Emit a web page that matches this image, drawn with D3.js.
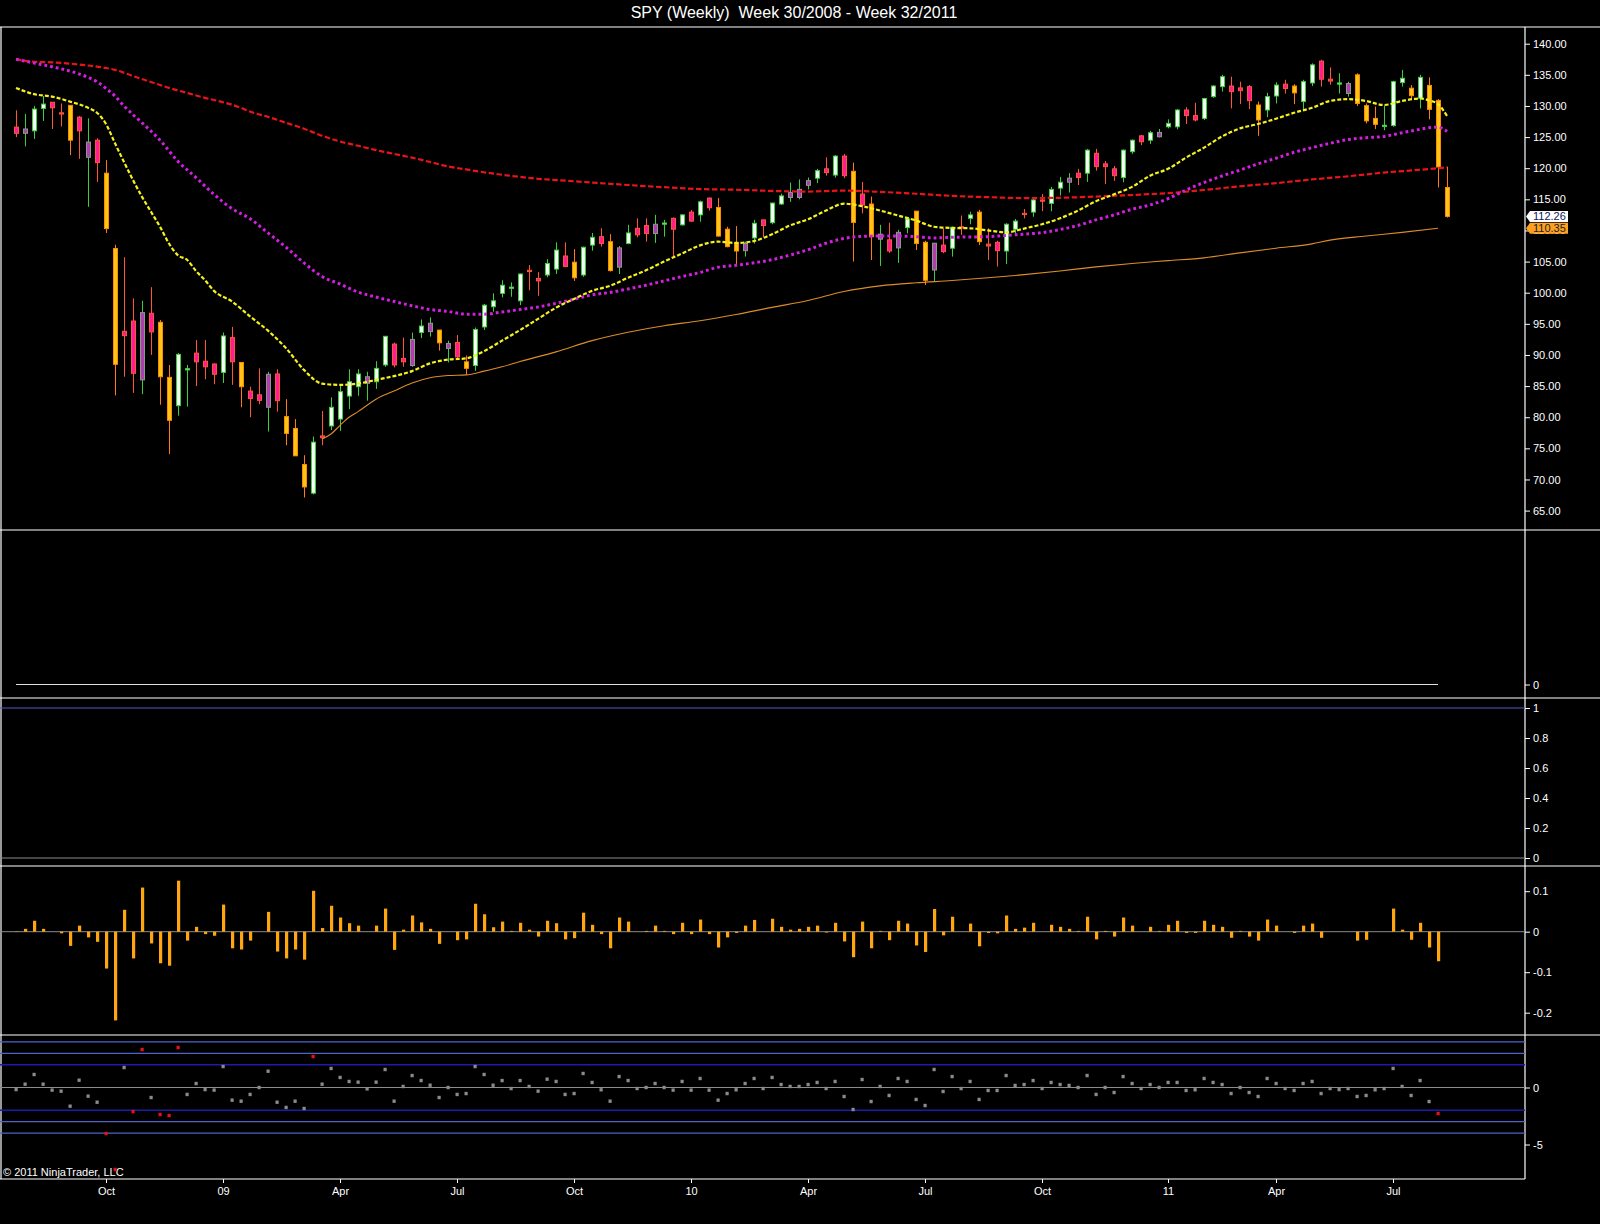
<!DOCTYPE html>
<html>
<head>
<meta charset="utf-8">
<title>SPY (Weekly)</title>
<script src="https://cdn.jsdelivr.net/npm/d3@7"></script>
<style>
  body { margin: 0; background: #000; }
  svg { display: block; }
</style>
</head>
<body>
<div id="chart"></div>
<script>
// weekly bars, week 30/2008 (index 0) .. week 32/2011 (index 159)
var opens = [126.6,125.6,126.0,129.6,130.6,128.9,130.1,128.2,121.75,124.5,
  119.2,107.1,93.8,95.45,86.0,96.7,95.25,86.4,81.85,87.6,
  90.3,89.0,88.55,87.2,92.8,88.8,84.2,83.6,81.6,86.95,
  80.1,78.2,72.4,67.8,77.0,78.6,79.7,83.4,84.9,85.45,
  85.7,88.4,91.75,89.45,88.3,93.6,93.75,94.0,91.05,92.0,
  88.9,88.3,94.5,97.75,99.9,100.7,98.7,103.6,102.3,102.85,
  103.8,105.9,104.9,102.85,107.65,109.0,108.2,104.1,107.9,110.35,
  110.8,109.5,111.0,111.95,110.9,112.95,112.5,115.2,113.7,110.2,
  108.0,106.75,108.8,111.7,111.25,114.25,115.3,115.3,117.25,118.4,
  119.9,118.9,121.95,119.5,115.85,114.25,108.6,108.5,107.2,110.45,
  113.1,108.1,103.65,107.65,107.15,110.6,111.95,112.95,107.8,108.1,
  106.7,110.2,112.75,112.95,114.9,114.35,116.8,117.75,119.2,119.2,
  122.4,120.7,119.9,118.5,122.65,125.2,124.5,125.05,126.65,126.65,
  129.35,128.45,128.0,131.5,133.1,133.2,132.9,133.1,130.15,129.35,
  131.6,133.5,133.2,130.7,133.7,137.2,134.3,133.5,132.0,135.0,
  130.05,128.0,126.7,126.85,133.75,132.85,131.25,133.3,130.9,116.9];

var highs = [129.3,128.7,130.0,131.6,130.6,130.4,130.1,128.4,128.0,124.8,
  121.3,107.7,105.7,99.1,98.7,100.9,95.6,88.4,90.3,88.4,
  92.4,92.4,88.65,93.6,94.5,88.8,84.9,87.85,87.3,87.7,
  82.9,79.7,73.9,76.9,81.0,83.2,85.1,87.7,87.7,87.3,
  89.0,93.05,92.0,92.8,93.6,95.7,96.05,94.0,92.3,93.2,
  89.9,94.4,98.2,99.9,102.0,101.65,103.1,104.45,103.3,105.4,
  108.1,108.1,107.0,107.4,109.6,110.35,109.4,107.5,110.9,111.95,
  111.95,112.5,111.7,112.1,112.6,113.3,114.8,115.3,115.2,110.6,
  110.7,108.2,111.7,111.7,114.45,115.9,117.7,118.2,118.5,119.9,
  121.75,122.1,122.3,120.9,117.8,115.45,110.9,111.25,110.1,111.95,
  113.1,108.35,108.0,110.35,110.6,112.4,113.0,113.3,110.35,108.35,
  111.15,111.85,113.45,115.05,115.85,117.0,118.6,119.2,119.9,123.1,
  123.1,121.15,120.35,123.0,124.6,125.35,126.0,126.3,127.85,129.5,
  129.8,130.5,131.3,133.35,135.0,134.7,133.9,133.35,130.7,132.1,
  133.8,134.2,133.5,134.2,136.85,137.4,136.2,135.25,133.9,135.25,
  130.4,129.9,130.05,134.05,135.8,133.35,135.0,134.6,131.1,120.25];

var lows = [125.0,123.5,124.7,127.6,126.3,126.7,122.1,121.5,113.8,117.8,
  109.6,83.5,86.5,83.9,83.7,90.0,82.0,74.1,80.25,81.7,
  85.0,86.1,85.3,85.5,85.2,81.6,80.0,82.1,77.7,80.9,
  75.5,73.8,67.1,67.6,75.5,77.95,77.8,81.3,83.45,82.65,
  84.55,88.1,88.0,88.1,88.1,92.7,92.95,90.7,88.8,89.45,
  86.8,87.45,94.0,96.95,99.25,99.35,98.0,100.4,99.5,102.5,
  103.0,104.1,101.9,102.55,106.75,107.4,103.4,103.0,107.8,108.9,
  108.2,108.0,109.0,105.8,110.8,111.4,111.4,113.2,109.0,107.3,
  104.3,105.8,107.9,108.9,111.0,114.1,114.6,115.0,116.6,117.6,
  118.8,118.5,118.4,105.0,112.75,105.25,104.3,106.4,104.8,109.55,
  106.85,101.25,101.8,106.35,105.8,109.3,111.0,107.65,105.25,104.2,
  104.6,109.4,111.95,112.2,113.1,113.1,115.6,116.1,117.3,117.8,
  119.6,117.45,117.95,117.75,122.3,123.7,123.9,124.95,126.4,126.25,
  127.1,127.5,127.75,131.3,132.3,129.6,130.3,129.5,125.2,128.2,
  130.4,132.0,130.3,129.5,133.2,133.1,133.4,132.0,131.5,130.0,
  127.2,126.3,126.1,126.65,133.1,130.95,129.6,127.85,116.9,112.05];

var closes = [125.6,126.3,129.5,130.3,129.7,128.7,124.5,126.0,124.2,120.9,
  110.3,88.5,93.1,87.05,96.8,93.7,86.5,79.5,90.1,87.8,
  88.9,88.1,86.9,93.05,88.9,84.9,83.0,82.7,86.9,82.65,
  77.4,73.8,68.8,76.0,76.7,81.6,84.1,85.7,86.95,86.5,
  87.85,93.0,88.4,88.9,92.5,94.65,95.1,91.95,91.85,89.7,
  87.85,94.1,98.0,98.7,101.2,100.9,103.0,103.4,101.9,104.7,
  106.85,104.2,102.4,107.3,108.9,107.9,103.55,107.2,109.6,109.3,
  109.5,111.0,111.2,110.2,112.5,111.5,114.6,113.65,109.1,107.4,
  106.7,107.9,111.15,110.8,114.4,115.55,116.1,116.6,118.0,119.6,
  119.3,121.95,118.8,111.3,114.1,109.0,109.4,106.7,109.7,111.85,
  107.9,102.0,107.95,106.6,110.5,110.4,112.5,108.2,107.5,106.75,
  111.0,111.5,112.55,114.9,114.7,116.6,117.75,118.4,118.5,122.9,
  120.25,120.25,118.8,122.9,124.5,124.25,125.7,125.75,127.2,129.35,
  128.45,127.75,131.2,133.2,134.7,132.3,132.45,130.85,127.75,131.5,
  133.35,132.8,132.1,133.9,136.6,134.3,134.0,133.7,133.6,130.4,
  127.6,127.05,126.9,133.9,134.45,131.65,134.6,129.45,120.2,112.26];

// painted bar state: W up/white, G up/grey, M down/magenta, O down/orange
var barKinds = ("MGWWMMOMGM" + "OOMMGMOOWW" + "MMMWMOMMGM" + "OOOWMWWWWG" +
  "WWMMGWGOGM" + "OWWWWWWMMW" + "WMOWWMOGWM" + "MGWMWMWMOO" +
  "OGWMWWGGGW" + "MWMOMOGMGW" + "OOGMWMWOMM" + "WWMWMWWGMW" +
  "MMMWWMWGWW" + "MMWWWMMMOW" + "WMOWWMMWGO" + "OOWWWOWOOO").split("");

// moving averages, [bar, value]
var smaFast = [[0,132.9],[2,131.9],[4,131.5],[6,130.7],[8,129.7],[9,128.9],[10,127.1],[11,124.0],
  [12,121.0],[13,118.1],[14,115.4],[15,113.0],[16,110.6],[17,107.9],[18,106.0],[19,105.3],[20,103.5],
  [21,102.0],[22,100.3],[24,98.6],[26,96.2],[28,93.9],[30,91.1],[32,87.6],[34,85.4],[36,85.2],
  [38,85.4],[40,86.0],[42,86.6],[44,87.4],[46,88.65],[48,89.25],[50,89.45],[52,90.6],[54,92.3],
  [56,94.0],[58,95.8],[60,97.6],[62,99.0],[64,100.3],[66,101.1],[68,102.4],[70,103.6],[72,105.0],
  [74,106.3],[76,107.6],[78,108.2],[80,108.0],[82,108.3],[84,109.4],[86,110.8],[88,111.8],[90,113.2],
  [92,114.3],[94,113.9],[96,113.2],[98,112.4],[100,111.6],[102,110.6],[104,110.4],[106,110.35],
  [108,110.0],[110,109.7],[112,110.3],[114,111.0],[116,111.95],[118,113.2],[120,114.7],[122,115.8],
  [124,117.0],[126,118.8],[128,119.9],[130,121.7],[132,123.3],[134,125.1],[136,126.4],[138,127.1],
  [140,127.95],[142,128.9],[144,129.7],[146,130.8],[148,131.1],[150,130.8],[152,130.15],[154,130.8],
  [156,131.2],[157,130.9],[158,130.3],[159,128.4]];

var smaMid = [[0,137.5],[2,136.9],[4,136.3],[6,135.6],[8,134.6],[9,133.9],[10,132.8],[11,131.6],
  [12,130.0],[13,128.6],[14,127.3],[16,124.5],[18,121.1],[20,118.5],[22,115.8],[24,113.5],[26,111.9],
  [28,109.6],[30,107.3],[32,104.8],[34,102.6],[36,101.4],[38,100.1],[40,99.3],[42,98.6],[44,97.9],
  [46,97.3],[48,97.0],[50,96.55],[52,96.55],[54,96.9],[56,97.3],[58,97.7],[60,98.3],[62,98.95],
  [64,99.65],[66,100.05],[68,100.6],[70,101.2],[72,101.9],[74,102.6],[76,103.25],[78,104.1],
  [80,104.4],[82,104.8],[84,105.3],[86,106.05],[88,106.9],[90,107.95],[92,108.7],[94,109.05],
  [96,109.1],[98,109.1],[100,109.0],[102,108.8],[104,108.9],[106,108.95],[108,109.0],[110,109.2],
  [112,109.4],[114,109.65],[116,110.15],[118,110.8],[120,111.7],[122,112.5],[124,113.4],[126,114.1],
  [128,115.1],[130,116.5],[132,117.7],[134,118.75],[136,119.7],[138,120.7],[140,121.6],[142,122.55],
  [144,123.3],[146,124.0],[148,124.6],[150,124.9],[152,125.1],[154,125.7],[156,126.25],[157,126.5],
  [158,126.6],[159,125.9]];

var smaSlow = [[0,137.5],[2,137.1],[4,137.0],[6,136.8],[8,136.5],[10,136.1],[11,135.8],[13,134.8],
  [15,133.85],[17,132.9],[19,132.1],[21,131.3],[23,130.6],[25,129.7],[26,129.1],[28,128.25],[30,127.3],
  [32,126.35],[34,125.2],[36,124.3],[38,123.6],[40,122.9],[42,122.3],[44,121.7],[46,121.0],[48,120.3],
  [50,119.8],[52,119.35],[54,118.95],[56,118.6],[58,118.3],[60,118.1],[62,117.9],[64,117.7],[68,117.3],
  [72,116.95],[76,116.65],[80,116.55],[84,116.35],[88,116.25],[92,116.4],[96,116.2],[100,115.9],
  [104,115.55],[108,115.35],[112,115.2],[116,115.25],[120,115.45],[124,115.7],[128,116.0],[132,116.5],
  [136,117.1],[140,117.6],[144,118.2],[148,118.7],[152,119.3],[156,119.75],[159,120.15]];

var trendLine = [[34,76.5],[35,77.3],[36,78.7],[37,80.0],[38,80.9],[40,82.9],[42,84.2],[44,85.5],
  [46,86.35],[48,86.7],[50,86.8],[52,87.4],[54,88.1],[56,88.95],[60,90.5],[64,92.3],[68,93.65],
  [72,94.7],[76,95.5],[80,96.5],[84,97.65],[88,98.75],[92,100.2],[96,101.1],[100,101.6],[104,101.95],
  [108,102.4],[112,102.9],[116,103.5],[120,104.15],[124,104.7],[128,105.15],[132,105.6],[136,106.4],
  [140,107.15],[144,107.85],[146,108.45],[150,109.1],[154,109.7],[158,110.35]];

// weekly log change (bars 0..158)
var weeklyChange = [0.001,0.007,0.027,0.007,0.000,-0.004,-0.035,0.015,-0.014,-0.025,
  -0.091,-0.219,0.054,-0.066,0.109,-0.029,-0.078,-0.084,0.126,-0.022,
  0.012,-0.006,-0.010,0.067,-0.041,-0.044,-0.022,0.000,0.049,-0.049,
  -0.066,-0.044,-0.069,0.101,0.009,0.064,0.035,0.021,0.015,0.000,
  0.015,0.057,-0.045,0.005,0.040,0.023,0.007,-0.030,0.000,-0.021,
  -0.019,0.069,0.043,0.011,0.025,0.002,0.022,0.005,-0.012,0.027,
  0.021,-0.019,-0.016,0.047,0.017,-0.006,-0.041,0.035,0.025,0.000,
  0.002,0.015,0.002,-0.006,0.022,-0.006,0.030,-0.006,-0.039,-0.014,
  -0.003,0.015,0.029,0.000,0.032,0.012,0.005,0.007,0.012,0.015,
  -0.002,0.022,-0.024,-0.063,0.025,-0.041,0.002,-0.021,0.027,0.020,
  -0.034,-0.050,0.056,-0.009,0.037,0.000,0.020,-0.036,-0.003,-0.004,
  0.040,0.007,0.010,0.022,0.000,0.017,0.012,0.007,0.002,0.037,
  -0.019,0.002,-0.012,0.035,0.015,0.000,0.012,0.002,0.017,0.027,
  -0.003,-0.003,0.027,0.017,0.012,-0.015,0.002,-0.012,-0.022,0.030,
  0.015,0.000,-0.003,0.015,0.020,-0.015,0.000,0.000,0.000,-0.022,
  -0.020,0.000,0.000,0.057,0.005,-0.020,0.022,-0.039,-0.073];

// standardised change (bars 0..158)
var zScores = [-0.18,0.29,1.14,0.29,-0.23,-0.32,-1.64,0.64,-0.76,-1.29,
  -4.04,-7.19,1.75,-2.11,3.33,-0.88,-2.37,-2.46,3.51,-0.61,
  0.35,-0.18,-0.23,1.84,-1.11,-1.20,-0.61,0.0,1.43,-1.29,
  -1.75,-1.20,-1.84,2.72,0.29,1.67,0.88,0.53,0.47,-0.12,
  0.47,1.58,-1.20,0.09,1.05,0.61,0.20,-0.88,0.0,-0.61,
  -0.53,1.84,1.14,0.20,0.61,-0.09,0.61,0.09,-0.32,0.73,
  0.53,-0.61,-0.53,1.23,0.44,-0.20,-1.20,0.96,0.61,-0.09,
  0.0,0.35,0.0,-0.23,0.53,-0.23,0.79,-0.23,-1.11,-0.53,
  -0.20,0.35,0.79,-0.09,0.88,0.26,0.09,0.09,0.26,0.44,
  -0.09,0.53,-0.79,-1.93,0.70,-1.23,0.09,-0.70,0.79,0.53,
  -1.05,-1.58,1.58,-0.35,0.96,-0.09,0.53,-1.05,-0.26,-0.26,
  1.05,0.18,0.26,0.61,-0.09,0.44,0.26,0.18,0.0,1.05,
  -0.61,0.0,-0.44,0.96,0.35,-0.09,0.26,0.0,0.44,0.44,
  -0.26,-0.20,0.79,0.44,0.26,-0.53,0.0,-0.44,-0.79,0.79,
  0.35,-0.09,-0.26,0.35,0.53,-0.53,-0.09,-0.18,-0.09,-0.79,
  -0.70,-0.20,-0.09,1.67,0.09,-0.70,0.61,-1.23,-2.28];

var tickBars = [10, 23, 36, 49, 62, 75, 88, 101, 114, 128, 140, 153];
var tickLabels = ["Oct", "09", "Apr", "Jul", "Oct", "10", "Apr", "Jul", "Oct", "11", "Apr", "Jul"];
var priceTicks = d3.range(65, 141, 5);

var FONT = "'Liberation Sans', Arial, sans-serif";
var W = 1600, H = 1224;
var axisX = 1525, bottomY = 1179;

var svg = d3.select("#chart").append("svg")
  .attr("width", W).attr("height", H);
svg.append("rect").attr("width", W).attr("height", H).attr("fill", "#000");

var x = d3.scaleLinear().domain([0, 159]).range([16, 1447]);
var y = d3.scaleLinear().domain([65, 140]).range([510.6, 43.7]);
var volY = d3.scaleLinear().domain([0, 1]).range([684.5, 560]);
var p3Y = d3.scaleLinear().domain([0, 1]).range([858, 708]);
var chgY = d3.scaleLinear().domain([-0.2, 0.1]).range([1012.7, 891.2]);
var zY = d3.scaleLinear().domain([-5, 0]).range([1144.5, 1087.5]);

var fill = d3.scaleOrdinal().domain(["W", "G", "M", "O"])
  .range(["#f6fff6", "#b23cb2", "#ff1c96", "#ffc414"]);
var edge = d3.scaleOrdinal().domain(["W", "G", "M", "O"])
  .range(["#3ccf3c", "#8a9a8a", "#ff5530", "#ff8a00"]);
var wick = d3.scaleOrdinal().domain(["W", "G", "M", "O"])
  .range(["#3ccf3c", "#3ccf3c", "#ff5530", "#ff7a10"]);

// title
svg.append("text")
  .attr("x", 794).attr("y", 18)
  .attr("text-anchor", "middle")
  .attr("fill", "#fff")
  .attr("font-family", FONT).attr("font-size", 16)
  .style("white-space", "pre")
  .text("SPY (Weekly)  Week 30/2008 - Week 32/2011");

// frame and panel separators
var frame = svg.append("g").attr("stroke", "#fff").attr("stroke-width", 1.2);
[27, 530, 698, 866, 1035].forEach(function(py) {
  frame.append("line").attr("x1", 0).attr("x2", W).attr("y1", py).attr("y2", py);
});
frame.append("line").attr("x1", 1).attr("x2", 1).attr("y1", 27).attr("y2", bottomY);
frame.append("line").attr("x1", axisX).attr("x2", axisX).attr("y1", 27).attr("y2", bottomY);
frame.append("line").attr("x1", 0).attr("x2", axisX).attr("y1", bottomY).attr("y2", bottomY);

// ---------- price panel ----------
var bars = barKinds.map(function(k, i) {
  return {i: i, o: opens[i], h: highs[i], l: lows[i], c: closes[i], k: k};
});

var candle = svg.append("g").selectAll("g").data(bars).enter().append("g");
candle.append("line")
  .attr("x1", function(d) { return Math.round(x(d.i)) + 0.5; })
  .attr("x2", function(d) { return Math.round(x(d.i)) + 0.5; })
  .attr("y1", function(d) { return y(d.h); })
  .attr("y2", function(d) { return y(d.l); })
  .attr("stroke", function(d) { return wick(d.k); })
  .attr("stroke-width", 1);
candle.append("rect")
  .attr("x", function(d) { return Math.round(x(d.i)) - 1.5; })
  .attr("width", 4)
  .attr("y", function(d) { return y(Math.max(d.o, d.c)); })
  .attr("height", function(d) { return Math.max(1, Math.abs(y(d.o) - y(d.c))); })
  .attr("fill", function(d) { return fill(d.k); })
  .attr("stroke", function(d) { return edge(d.k); })
  .attr("stroke-width", 1);

var maLine = d3.line()
  .x(function(d) { return x(d[0]); })
  .y(function(d) { return y(d[1]); })
  .curve(d3.curveMonotoneX);

svg.append("path").datum(trendLine).attr("d", maLine)
  .attr("fill", "none").attr("stroke", "#dc8c28").attr("stroke-width", 1.1);
svg.append("path").datum(smaSlow).attr("d", maLine)
  .attr("fill", "none").attr("stroke", "#e8141a").attr("stroke-width", 2.2)
  .attr("stroke-dasharray", "5.5,2.5");
svg.append("path").datum(smaMid).attr("d", maLine)
  .attr("fill", "none").attr("stroke", "#d21fe0").attr("stroke-width", 3)
  .attr("stroke-dasharray", "2.8,3");
svg.append("path").datum(smaFast).attr("d", maLine)
  .attr("fill", "none").attr("stroke", "#f4f21e").attr("stroke-width", 2.2)
  .attr("stroke-dasharray", "4,2");

// ---------- axes ----------
function rightAxis(scale, values, fmt) {
  var g = svg.append("g").attr("transform", "translate(" + axisX + ",0)")
    .call(d3.axisRight(scale).tickValues(values).tickFormat(fmt)
      .tickSize(5).tickPadding(3).tickSizeOuter(0));
  g.select(".domain").remove();
  g.attr("font-family", FONT).attr("font-size", 11);
  g.selectAll("line").attr("stroke", "#fff");
  g.selectAll("text").attr("fill", "#fff");
  return g;
}
rightAxis(y, priceTicks, d3.format(".2f"));
rightAxis(volY, [0], function(d) { return String(d); });
rightAxis(p3Y, [0, 0.2, 0.4, 0.6, 0.8, 1], function(d) { return String(d); });
rightAxis(chgY, [-0.2, -0.1, 0, 0.1], function(d) { return String(d); });
rightAxis(zY, [-5, 0], function(d) { return String(d); });

// price markers
var lastClose = closes[closes.length - 1];
var lastTrend = trendLine[trendLine.length - 1][1];
var markers = [
  {v: lastClose, bg: "#ffffff", fg: "#14145a"},
  {v: lastTrend, bg: "#ffa020", fg: "#202020"}
];
var mk = svg.append("g").selectAll("g").data(markers).enter().append("g");
mk.append("path")
  .attr("d", function(d) {
    var py = y(d.v);
    return "M" + (axisX + 1) + "," + py + "L" + (axisX + 5) + "," + (py - 5.5) +
      "L1568," + (py - 5.5) + "L1568," + (py + 5.5) + "L" + (axisX + 5) + "," + (py + 5.5) + "Z";
  })
  .attr("fill", function(d) { return d.bg; });
mk.append("text")
  .attr("x", axisX + 8).attr("y", function(d) { return y(d.v); })
  .attr("dy", "0.36em")
  .attr("font-family", FONT).attr("font-size", 11)
  .attr("fill", function(d) { return d.fg; })
  .text(function(d) { return d3.format(".2f")(d.v); });

// ---------- panel 2 ----------
svg.append("line")
  .attr("x1", x(0)).attr("x2", x(weeklyChange.length - 1))
  .attr("y1", volY(0)).attr("y2", volY(0))
  .attr("stroke", "#e0e0e0").attr("stroke-width", 1);

// ---------- panel 3 ----------
svg.append("line").attr("x1", 0).attr("x2", axisX)
  .attr("y1", p3Y(1)).attr("y2", p3Y(1)).attr("stroke", "#4c5cc8");
svg.append("line").attr("x1", 0).attr("x2", axisX)
  .attr("y1", p3Y(0)).attr("y2", p3Y(0)).attr("stroke", "#8c8c8c");

// ---------- panel 4: weekly change ----------
svg.append("line").attr("x1", 0).attr("x2", axisX)
  .attr("y1", chgY(0)).attr("y2", chgY(0)).attr("stroke", "#8c8c8c");
svg.append("g").selectAll("rect").data(weeklyChange).enter().append("rect")
  .attr("x", function(d, i) { return Math.round(x(i)) - 1; })
  .attr("width", 3.2)
  .attr("y", function(d) { return Math.min(chgY(d), chgY(0)); })
  .attr("height", function(d) { return Math.abs(chgY(d) - chgY(0)); })
  .attr("fill", "#ffa50f");

// ---------- time axis and copyright ----------
var xa = svg.append("g").attr("transform", "translate(0," + bottomY + ")")
  .call(d3.axisBottom(x).tickValues(tickBars)
    .tickFormat(function(d, i) { return tickLabels[i]; })
    .tickSize(4).tickPadding(4).tickSizeOuter(0));
xa.select(".domain").remove();
xa.attr("font-family", FONT).attr("font-size", 11);
xa.selectAll("line").attr("stroke", "#fff");
xa.selectAll("text").attr("fill", "#fff");

svg.append("text")
  .attr("x", 3).attr("y", 1176)
  .attr("fill", "#fff")
  .attr("font-family", FONT).attr("font-size", 11)
  .text("\u00a9 2011 NinjaTrader, LLC");

// ---------- panel 5: standardised change ----------
var bandLines = [
  {v: 4, c: "#4f63c9"}, {v: 3, c: "#4f63c9"}, {v: 2, c: "#1c1ca8"},
  {v: -2, c: "#1c1ca8"}, {v: -3, c: "#4f63c9"}, {v: -4, c: "#4f63c9"}
];
svg.append("g").selectAll("line").data(bandLines).enter().append("line")
  .attr("x1", 0).attr("x2", axisX)
  .attr("y1", function(d) { return zY(d.v); })
  .attr("y2", function(d) { return zY(d.v); })
  .attr("stroke", function(d) { return d.c; })
  .attr("stroke-width", function(d) { return Math.abs(d.v) === 2 ? 1.6 : 1.2; });
svg.append("line").attr("x1", 0).attr("x2", axisX)
  .attr("y1", zY(0)).attr("y2", zY(0)).attr("stroke", "#8c8c8c");
svg.append("g").selectAll("rect").data(zScores).enter().append("rect")
  .attr("x", function(d, i) { return x(i) - 1.5; })
  .attr("y", function(d) { return zY(d) - 1.7; })
  .attr("width", 3.2).attr("height", 3.4)
  .attr("fill", function(d) { return Math.abs(d) > 2 ? "#e8101a" : "#8a8a8a"; });
</script>
</body>
</html>
